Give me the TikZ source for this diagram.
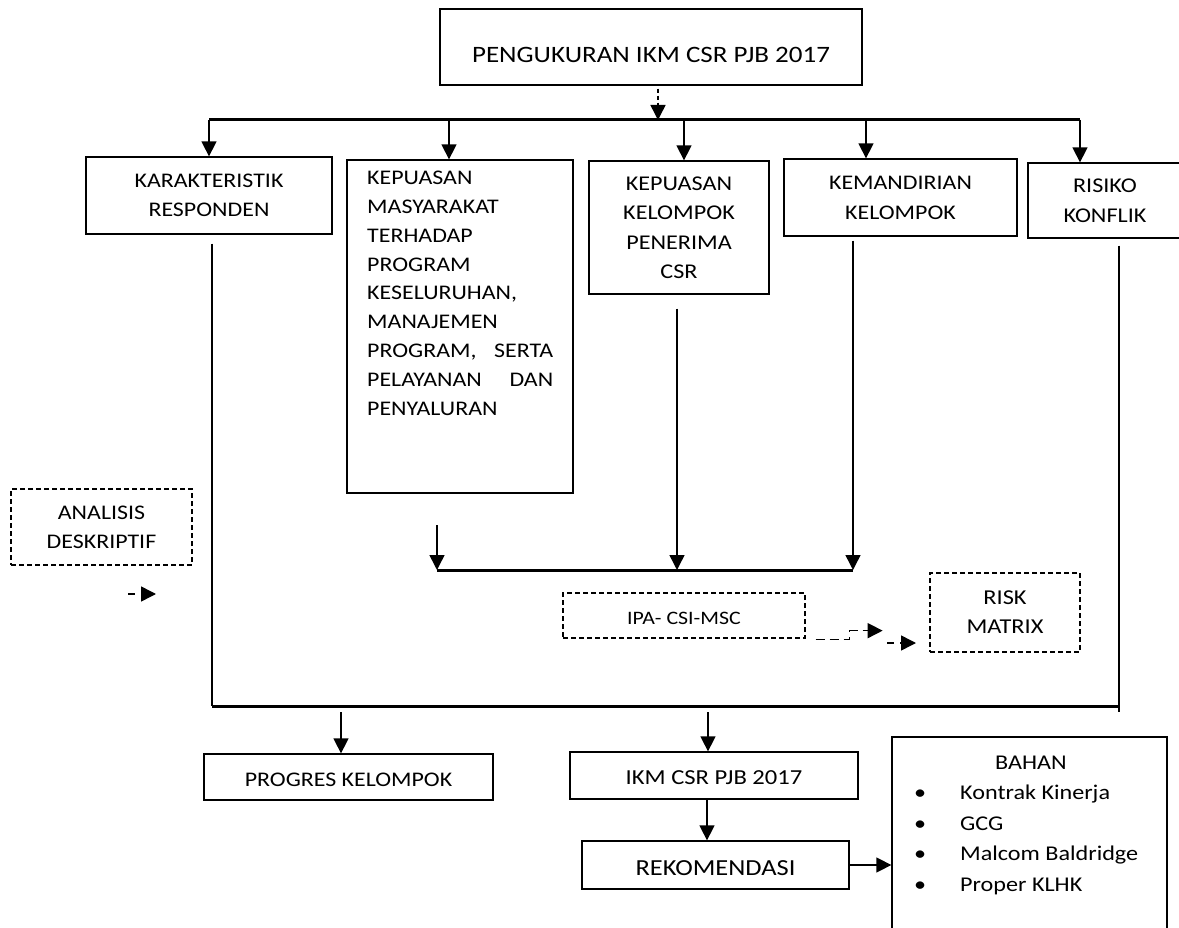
\documentclass[tikz,border=0pt]{standalone}
\usepackage{fontspec}
\setmainfont{Carlito}[FakeStretch=1.15]
\usetikzlibrary{arrows.meta}

\begin{document}
\begin{tikzpicture}[x=1pt,y=-1pt,>={Triangle[width=15pt,length=15pt]},
  box/.style={draw,line width=1.3pt,inner sep=0pt,align=center,text depth=0pt,
    execute at begin node=\strut,font=\fontsize{20.8}{28.5}\selectfont},
  dbox/.style={box,dash pattern=on 5pt off 3pt},
  bar/.style={line width=3pt},
  conn/.style={line width=1.5pt},
  dconn/.style={conn,dash pattern=on 9pt off 5pt}]
\useasboundingbox (0,0) rectangle (1179,928);

% boxes
\node[box,minimum width=422,minimum height=76,font=\fontsize{23.5}{28}\selectfont,text height=31pt] (title) at (651,47) {PENGUKURAN IKM CSR PJB 2017};
\node[box,minimum width=246,minimum height=77] (karak) at (209,195.5) {KARAKTERISTIK\\RESPONDEN};
\node[box,minimum width=226,minimum height=333] (kepmas) at (460,326.5) {};
\node[anchor=north west,inner sep=0pt,text width=186,align=left,font=\fontsize{20.8}{28.8}\selectfont] (kepmastext) at (367,171)
  {KEPUASAN\\MASYARAKAT\\TERHADAP\\PROGRAM\\KESELURUHAN,\\MANAJEMEN\\PROGRAM,\hfill SERTA\\PELAYANAN\hfill DAN\\PENYALURAN};
\node[box,minimum width=180,minimum height=133,font=\fontsize{21}{29.5}\selectfont] (kepkel) at (679,227.5) {KEPUASAN\\KELOMPOK\\PENERIMA\\CSR};
\node[box,minimum width=233,minimum height=77,font=\fontsize{20.8}{30}\selectfont] (kemand) at (900.5,197.5) {KEMANDIRIAN\\KELOMPOK};
\node[box,minimum width=154,minimum height=75,font=\fontsize{21}{30}\selectfont] (risiko) at (1105,200.5) {RISIKO\\KONFLIK};
\node[dbox,minimum width=181,minimum height=76] (analisis) at (101.5,527) {ANALISIS\\DESKRIPTIF};
\node[dbox,minimum width=242,minimum height=45,font=\fontsize{19}{26}\selectfont] (ipa) at (684,615.5) {IPA- CSI-MSC};
\node[dbox,minimum width=150,minimum height=79,font=\fontsize{21.2}{29}\selectfont] (riskm) at (1005,612.5) {RISK\\MATRIX};
\node[box,minimum width=289,minimum height=46] (progres) at (348.5,777) {PROGRES KELOMPOK};
\node[box,minimum width=288,minimum height=47,font=\fontsize{21.4}{27}\selectfont] (ikm) at (714,775.5) {IKM CSR PJB 2017};
\node[box,minimum width=267,minimum height=48,font=\fontsize{23}{29}\selectfont] (rekom) at (715.5,865) {REKOMENDASI};
\node[box,minimum width=275,minimum height=210] (bahan) at (1029.5,842) {};
\node[anchor=north west,inner sep=0pt,align=left,font=\fontsize{21}{30.5}\selectfont] (bahantext) at (914,755.5)
  {\hspace*{81pt}BAHAN\\
   \makebox[46pt][l]{\textbullet}Kontrak Kinerja\\
   \makebox[46pt][l]{\textbullet}GCG\\
   \makebox[46pt][l]{\textbullet}Malcom Baldridge\\
   \makebox[46pt][l]{\textbullet}Proper KLHK};

% bars
\coordinate (tl) at (209,120);
\coordinate (tr) at (1080,120);
\coordinate (ml) at (437,570);
\coordinate (mr) at (853,570);
\coordinate (bl) at (212,706);
\coordinate (br) at (1119,706);
\draw[bar] (tl) -- (tr);
\draw[bar] (ml) -- (mr);
\draw[bar] (bl) -- (br);

% top level
\draw[conn,->,dash pattern=on 4pt off 3pt] ([xshift=7pt,yshift=-3pt]title.south) -- ([xshift=7pt]title.south |- tl);
\draw[conn,->] (karak.north |- tl) -- (karak.north);
\draw[conn,->] ([xshift=-11pt]kepmas.north |- tl) -- ([xshift=-11pt]kepmas.north);
\draw[conn,->] ([xshift=5pt]kepkel.north |- tl) -- ([xshift=5pt]kepkel.north);
\draw[conn,->] ([xshift=-34.5pt]kemand.north |- tl) -- ([xshift=-34.5pt]kemand.north);
\draw[conn,->] (tr) -- (tr |- risiko.north);

% middle level
\coordinate (mfree) at (437,525);
\draw[conn,->] (mfree) -- (ml);
\draw[conn,->] ([xshift=-2pt,yshift=-14pt]kepkel.south) -- ([xshift=-2pt]kepkel.south |- ml);
\draw[conn,->] ([xshift=-47.5pt,yshift=-4pt]kemand.south) -- (mr);
\draw[conn] ([xshift=3pt,yshift=-9pt]karak.south) -- (bl);
\draw[conn] ([xshift=14pt,yshift=-7pt]risiko.south) -- ([yshift=-6pt]br);

% dashed
\draw[dconn,->] ([xshift=10pt,yshift=-1pt]ipa.south east) -- ++(34,0) -- ++(0,-9) -- ++(33,0);
\coordinate (r1) at (887,643);
\coordinate (r2) at (916,643);
\draw[conn,->,dash pattern=on 7pt off 6pt] (r1) -- (r2);
\coordinate (a1) at (128,594);
\coordinate (a2) at (156,594);
\draw[conn,->,dash pattern=on 7pt off 6pt] (a1) -- (a2);

% bottom level
\draw[conn,->] ([xshift=-7.5pt,yshift=-6pt]progres.north |- bl) -- ([xshift=-7.5pt]progres.north);
\draw[conn,->] ([xshift=-6pt,yshift=-6pt]ikm.north |- bl) -- ([xshift=-6pt]ikm.north);
\draw[conn,->] ([xshift=-7pt]ikm.south) -- ([xshift=-7pt]ikm.south |- rekom.north);
\draw[conn,->] (rekom.east) -- (rekom.east -| bahan.west);

\end{tikzpicture}
\end{document}
